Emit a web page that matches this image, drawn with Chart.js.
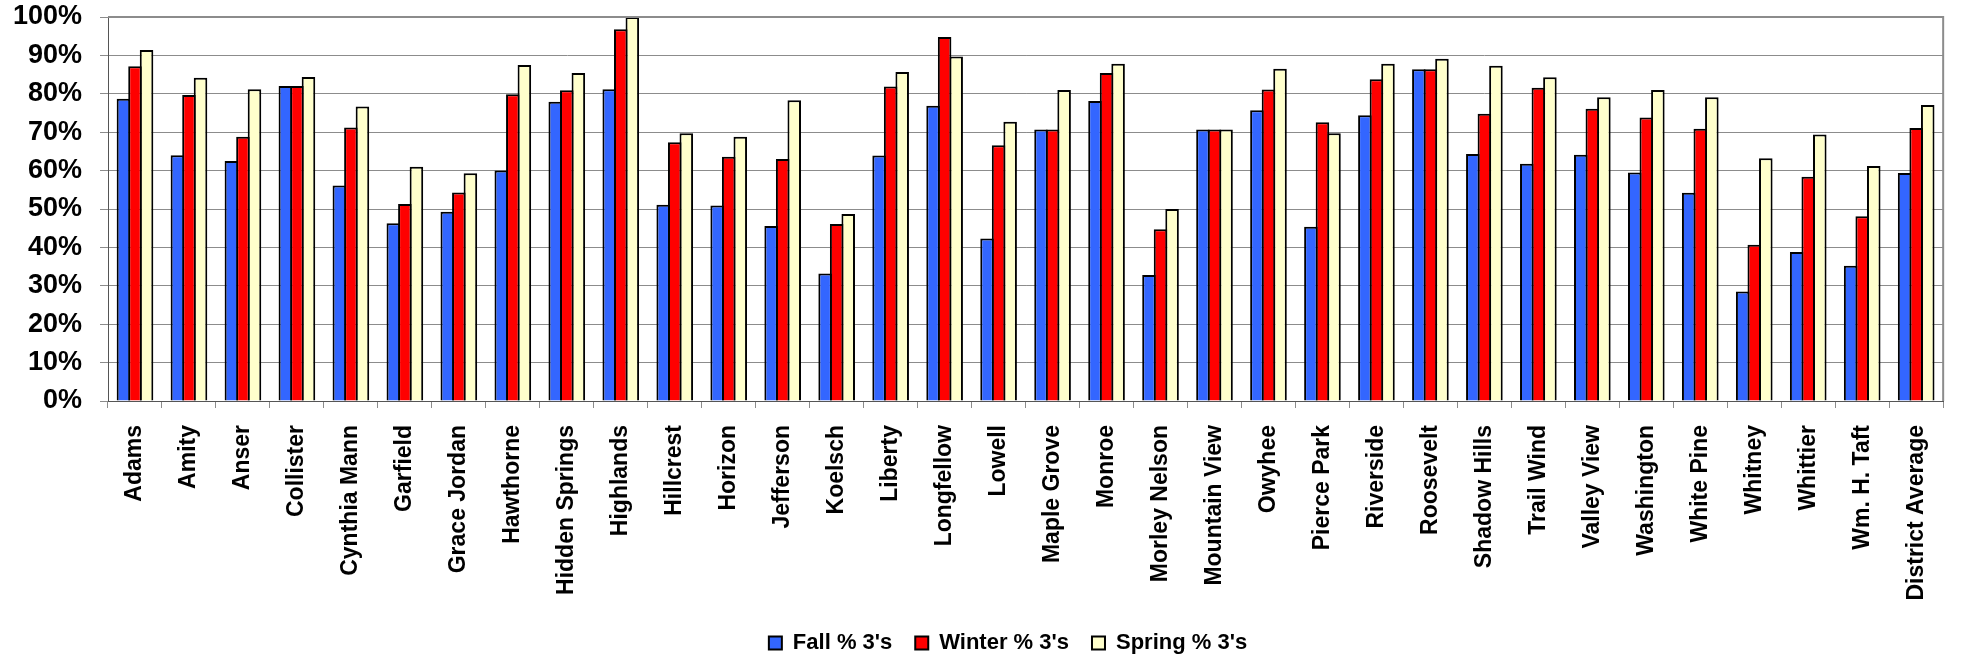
<!DOCTYPE html>
<html>
<head>
<meta charset="utf-8">
<script src="https://cdn.jsdelivr.net/npm/chart.js@4/dist/chart.umd.min.js"></script>
<style>
  html, body { margin: 0; padding: 0; background: #ffffff; }
  #wrap { position: relative; width: 1961px; height: 658px; }
</style>
</head>
<body>
<div id="wrap"><canvas id="c"></canvas></div>
<script>
const schools = ["Adams", "Amity", "Anser", "Collister", "Cynthia Mann", "Garfield", "Grace Jordan", "Hawthorne", "Hidden Springs", "Highlands", "Hillcrest", "Horizon", "Jefferson", "Koelsch", "Liberty", "Longfellow", "Lowell", "Maple Grove", "Monroe", "Morley Nelson", "Mountain View", "Owyhee", "Pierce Park", "Riverside", "Roosevelt", "Shadow Hills", "Trail Wind", "Valley View", "Washington", "White Pine", "Whitney", "Whittier", "Wm. H. Taft", "District Average"];

const fallPct   = [78.7, 64.0, 62.5, 82.0, 56.1, 46.3, 49.3, 60.0, 77.9, 81.2, 51.1, 50.9, 45.6, 33.2, 63.9, 76.9, 42.3, 70.7, 78.1, 32.8, 70.7, 75.7, 45.4, 74.4, 86.4, 64.3, 61.8, 64.1, 59.5, 54.2, 28.5, 38.8, 35.2, 59.4];
const winterPct = [87.2, 79.7, 68.8, 82.0, 71.2, 51.3, 54.3, 79.9, 80.9, 96.8, 67.4, 63.6, 63.0, 46.1, 81.9, 94.8, 66.6, 70.7, 85.4, 44.7, 70.7, 81.1, 72.6, 83.8, 86.4, 74.8, 81.6, 76.1, 73.8, 70.9, 40.7, 58.4, 48.1, 71.1];
const springPct = [91.4, 84.2, 81.2, 84.4, 76.7, 61.0, 59.3, 87.5, 85.4, 100.0, 69.7, 68.8, 78.3, 48.7, 85.7, 89.7, 72.7, 81.0, 87.8, 50.0, 70.7, 86.5, 69.7, 87.8, 89.1, 87.3, 84.3, 79.1, 81.0, 79.1, 63.2, 69.4, 61.2, 77.1];

const seriesNames = ["Fall % 3's", "Winter % 3's", "Spring % 3's"];
const yTicks = [0, 10, 20, 30, 40, 50, 60, 70, 80, 90, 100];

const FONT = "'Liberation Sans', Arial, sans-serif";

const frame = {
  id: 'frame',
  afterLayout(chart) {
    const lg = chart.legend;
    if (lg) { lg.left += 57; }
  },
  afterDatasetsDraw(chart) {
    const a = chart.chartArea, ctx = chart.ctx;
    ctx.save();
    ctx.strokeStyle = '#8c8c8c';
    ctx.lineWidth = 2;
    ctx.beginPath();
    ctx.moveTo(a.left, a.top);
    ctx.lineTo(a.right, a.top);
    ctx.lineTo(a.right, a.bottom);
    ctx.stroke();
    ctx.restore();
  }
};

const mk = (label, data, color) => ({
  label, data,
  backgroundColor: color,
  borderColor: '#000000',
  borderWidth: 2,
  borderSkipped: 'start',
  categoryPercentage: 0.642,
  barPercentage: 1.173
});

new Chart(document.getElementById('c'), {
  type: 'bar',
  data: {
    labels: schools,
    datasets: [
      mk(seriesNames[0], fallPct, '#3366ff'),
      mk(seriesNames[1], winterPct, '#ff0000'),
      mk(seriesNames[2], springPct, '#ffffcc')
    ]
  },
  options: {
    responsive: true,
    maintainAspectRatio: false,
    animation: false,
    layout: { padding: { left: 13, right: 15, top: 17, bottom: -6 } },
    plugins: {
      tooltip: { enabled: false },
      legend: {
        position: 'bottom',
        labels: {
          boxWidth: 13, boxHeight: 13,
          padding: 23,
          color: '#000',
          font: { family: FONT, size: 22, weight: 'bold' }
        }
      }
    },
    scales: {
      x: {
        afterFit(scale) { scale.height = 208; scale.paddingTop = 0; scale.paddingBottom = 0; },
        grid: { display: true, drawOnChartArea: false, offset: true, tickLength: 7, color: '#8c8c8c', lineWidth: 1 },
        border: { display: true, color: '#555555', width: 1 },
        ticks: {
          autoSkip: false, maxRotation: 90, minRotation: 90, padding: 17,
          color: '#000',
          font: { family: FONT, size: 23, weight: 'bold' }
        }
      },
      y: {
        min: 0, max: 100,
        afterBuildTicks(axis) { axis.ticks = yTicks.map(v => ({ value: v })); },
        afterFit(scale) { scale.width = 95; scale.paddingTop = 0; scale.paddingBottom = 0; },
        grid: { color: '#8c8c8c', lineWidth: 1, tickLength: 8 },
        border: { display: true, color: '#555555', width: 1 },
        ticks: {
          autoSkip: false,
          padding: 18,
          color: '#000',
          font: { family: FONT, size: 27, weight: 'bold' },
          callback: v => v + '%'
        }
      }
    }
  },
  plugins: [frame]
});
</script>
</body>
</html>
